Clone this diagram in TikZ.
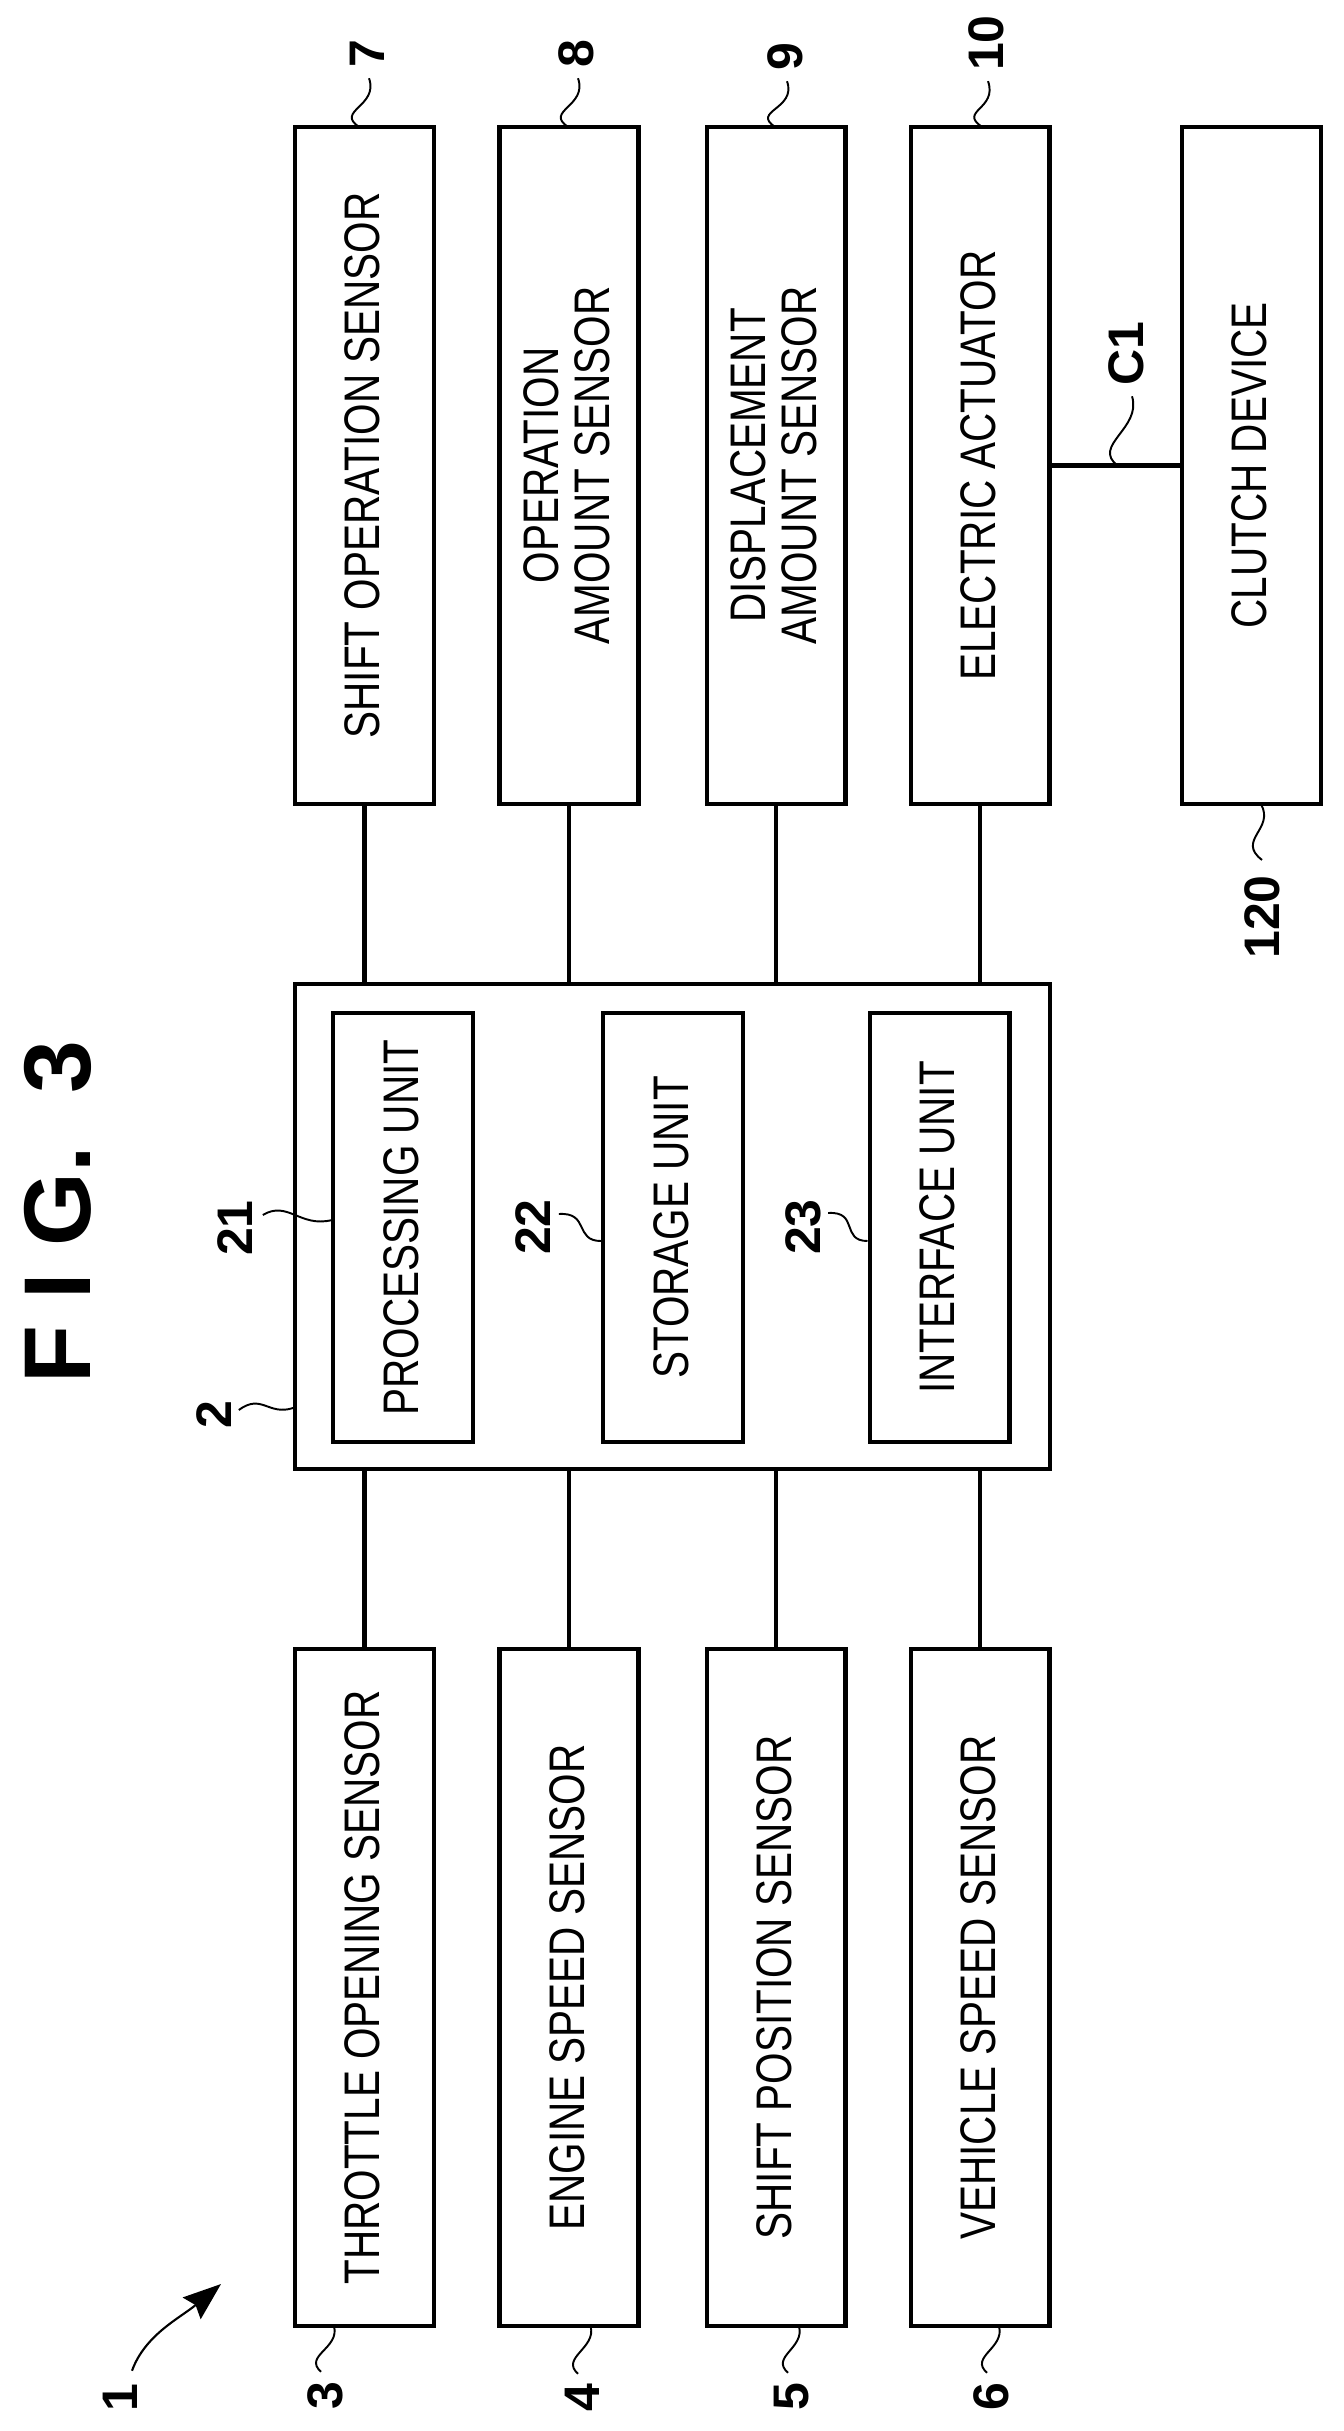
\documentclass[tikz,border=0pt]{standalone}
\usepackage{fontspec}
\setmainfont{Liberation Sans}
\newfontfamily\plainfont[FakeStretch=0.81]{Liberation Sans}
\usetikzlibrary{arrows.meta}
\begin{document}
\begin{tikzpicture}
    [x=0.02cm,y=0.02cm,
     blockv/.style={shape=rectangle,draw=black,line width=2.3pt,rotate=90,inner sep=0pt,outer sep=0pt,
       minimum width=13.55cm,minimum height=2.78cm,align=center,text depth=0.09cm,
       font=\plainfont\fontsize{28.45}{29}\selectfont},
     unit/.style={blockv,minimum width=8.58cm,minimum height=2.8cm},
     wire/.style={line width=2.3pt},
     lead/.style={line width=1.1pt},
     num/.style={rotate=90,inner sep=0.2cm,font=\bfseries\fontsize{28.45}{29}\selectfont}]
    \path [use as bounding box] (0,0) rectangle (1344,-2431);
    \node [rotate=90,font=\bfseries\fontsize{54}{55}\selectfont] (title) at (58,-1212) {F I G.~~3};
    \node [blockv,minimum width=9.7cm,minimum height=15.1cm] (ctl) at (672.5,-1226.5) {};
    \node [unit] (prc) at (403,-1227.5) {PROCESSING UNIT};
    \node [unit] (sto) at (673,-1227.5) {STORAGE UNIT};
    \node [unit] (itf) at (939.5,-1227.5) {INTERFACE UNIT};
    \node [blockv] (thr) at (364.5,-1987.5) {THROTTLE OPENING SENSOR}
      edge [wire] (thr |- ctl.west);
    \node [blockv] (eng) at (569,-1987.5) {ENGINE SPEED SENSOR}
      edge [wire] (eng |- ctl.west);
    \node [blockv] (pos) at (776,-1987.5) {SHIFT POSITION SENSOR}
      edge [wire] (pos |- ctl.west);
    \node [blockv] (spd) at (980,-1987.5) {VEHICLE SPEED SENSOR}
      edge [wire] (spd |- ctl.west);
    \node [blockv] (shf) at (364.5,-465.5) {SHIFT OPERATION SENSOR}
      edge [wire] (shf |- ctl.east);
    \node [blockv] (opr) at (569,-465.5) {OPERATION\\AMOUNT SENSOR}
      edge [wire] (opr |- ctl.east);
    \node [blockv] (dsp) at (776,-465.5) {DISPLACEMENT\\AMOUNT SENSOR}
      edge [wire] (dsp |- ctl.east);
    \node [blockv] (act) at (980,-465.5) {ELECTRIC ACTUATOR}
      edge [wire] (act |- ctl.east);
    \node [blockv] (clt) at (1251.5,-465.5) {CLUTCH DEVICE}
      edge [wire] (act);
    % reference numerals
    \node [num] (n1) at (120,-2398) {1};
    \node [num] (n2) at (214,-1415) {2};
    \node [num] (n3) at (325,-2396) {3};
    \node [num] (n4) at (582,-2398) {4};
    \node [num] (n5) at (792,-2397) {5};
    \node [num] (n6) at (991,-2397) {6};
    \node [num] (n7) at (367,-54) {7};
    \node [num] (n8) at (576,-54) {8};
    \node [num] (n9) at (785,-57) {9};
    \node [num] (n10) at (986,-43) {10};
    \node [num] (n21) at (235,-1228) {21};
    \node [num] (n22) at (533,-1227) {22};
    \node [num] (n23) at (803,-1227) {23};
    \node [num] (n120) at (1262,-917) {120};
    \node [num] (nC) at (1126,-354) {C1};
    \coordinate (tip) at (221,-2284);
    % leaders
    \foreach \blk/\dx/\lab in {thr/-30.5/3,eng/21.6/4,pos/23/5,spd/19/6}
      \draw [lead] ([shift={(\dx,0)}]\blk.west) .. controls +(6,-22) and +(-18,16) .. ([shift={(-4,0)}]n\lab.east);
    \foreach \blk/\dx/\lab in {shf/-5.5/7,opr/-1/8,dsp/-1/9,act/2/10}
      \draw [lead] ([shift={(\dx,0)}]\blk.east) .. controls +(-24,16) and +(10,-28) .. ([shift={(2,0)}]n\lab.west);
    \draw [lead] ([shift={(68,0)}]act.south) .. controls +(-26,20) and +(10,-32) .. ([shift={(6,0)}]nC.west);
    \draw [lead] ([shift={(9.5,0)}]clt.west) .. controls +(14,-25) and +(-26,20) .. ([shift={(0,5)}]n120.east);
    \draw [lead] ([shift={(-2,-181.5)}]ctl.north) .. controls +(-25,-8) and +(23,17) .. ([shift={(-3,5)}]n2.south);
    \draw [lead] ([shift={(-1,7.5)}]prc.north) .. controls +(-32,-8) and +(25,15) .. ([shift={(0,13)}]n21.south);
    \draw [lead] ([shift={(-2,-13.5)}]sto.north) .. controls +(-27,0) and +(31,2) .. ([shift={(-2,13)}]n22.south);
    \draw [lead] ([shift={(-2,-13.5)}]itf.north) .. controls +(-27,0) and +(31,2) .. ([shift={(-3,14)}]n23.south);
    \draw [line width=1.2pt,-{Stealth[length=0.76cm,width=0.56cm,inset=0.1cm]}] ([shift={(12,3)}]n1.east) .. controls +(13,36) and +(-41,-34) .. (tip);
  \end{tikzpicture}
\end{document}
